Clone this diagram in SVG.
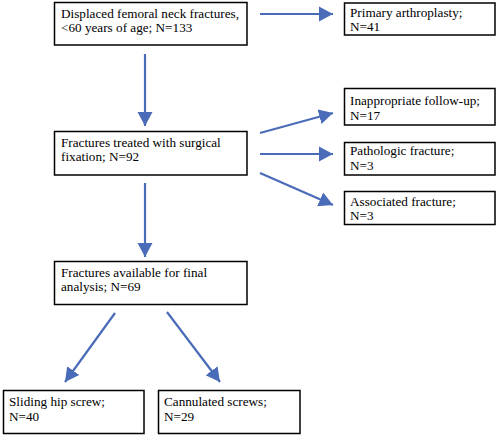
<svg xmlns="http://www.w3.org/2000/svg" width="498" height="436" viewBox="0 0 498 436">
<style>
.box{fill:#fff;stroke:#000;stroke-width:1.5}
.c{stroke:#4a6cb8;stroke-width:2.2;fill:none;marker-end:url(#ah)}
</style>
<defs>
<marker id="ah" markerUnits="userSpaceOnUse" markerWidth="16" markerHeight="16" viewBox="0 0 16 16" refX="14" refY="8" orient="auto">
<path d="M0,0.5 L14,8 L0,15.5 Z" fill="#4a6cb8"/>
</marker>
</defs>
<rect width="498" height="436" fill="#fff"/>
<g id="connectors">
<path class="c" d="M260,14 H333"/>
<path class="c" d="M145,54 V126"/>
<path class="c" d="M260,133 L333,113"/>
<path class="c" d="M260,154 H333"/>
<path class="c" d="M260,173 L333,205"/>
<path class="c" d="M145,183 V257"/>
<path class="c" d="M115,313 L65,382"/>
<path class="c" d="M167,312 L220,382"/>
</g>
<g id="n1"><rect class="box" x="54.5" y="2.5" width="192.5" height="42.5"/><text font-family="Liberation Serif" font-size="13.2" x="61" y="18">Displaced femoral neck fractures,</text><text font-family="Liberation Serif" font-size="13.2" x="61" y="32">&lt;60 years of age; N=133</text></g>
<g id="n2"><rect class="box" x="344.5" y="3" width="150.5" height="32"/><text font-family="Liberation Serif" font-size="13.2" x="350" y="17">Primary arthroplasty;</text><text font-family="Liberation Serif" font-size="13.2" x="350" y="31">N=41</text></g>
<g id="n3"><rect class="box" x="344.5" y="88.5" width="150.5" height="36.5"/><text font-family="Liberation Serif" font-size="13.2" x="350" y="105">Inappropriate follow-up;</text><text font-family="Liberation Serif" font-size="13.2" x="350" y="120">N=17</text></g>
<g id="n4"><rect class="box" x="54.5" y="131.5" width="192.5" height="43.5"/><text font-family="Liberation Serif" font-size="13.2" x="61" y="147">Fractures treated with surgical</text><text font-family="Liberation Serif" font-size="13.2" x="61" y="161">fixation; N=92</text></g>
<g id="n5"><rect class="box" x="344.5" y="142.5" width="150.5" height="32.5"/><text font-family="Liberation Serif" font-size="13.2" x="350" y="155">Pathologic fracture;</text><text font-family="Liberation Serif" font-size="13.2" x="350" y="170">N=3</text></g>
<g id="n6"><rect class="box" x="344.5" y="191.5" width="150.5" height="33"/><text font-family="Liberation Serif" font-size="13.2" x="350" y="206">Associated fracture;</text><text font-family="Liberation Serif" font-size="13.2" x="350" y="220">N=3</text></g>
<g id="n7"><rect class="box" x="54.5" y="261.5" width="192.5" height="43"/><text font-family="Liberation Serif" font-size="13.2" x="61" y="277">Fractures available for final</text><text font-family="Liberation Serif" font-size="13.2" x="61" y="291">analysis; N=69</text></g>
<g id="n8"><rect class="box" x="3.5" y="390.5" width="140.5" height="43"/><text font-family="Liberation Serif" font-size="13.2" x="9" y="406">Sliding hip screw;</text><text font-family="Liberation Serif" font-size="13.2" x="9" y="421">N=40</text></g>
<g id="n9"><rect class="box" x="158.5" y="390.5" width="141.5" height="43"/><text font-family="Liberation Serif" font-size="13.2" x="164" y="406">Cannulated screws;</text><text font-family="Liberation Serif" font-size="13.2" x="164" y="421">N=29</text></g>
</svg>
